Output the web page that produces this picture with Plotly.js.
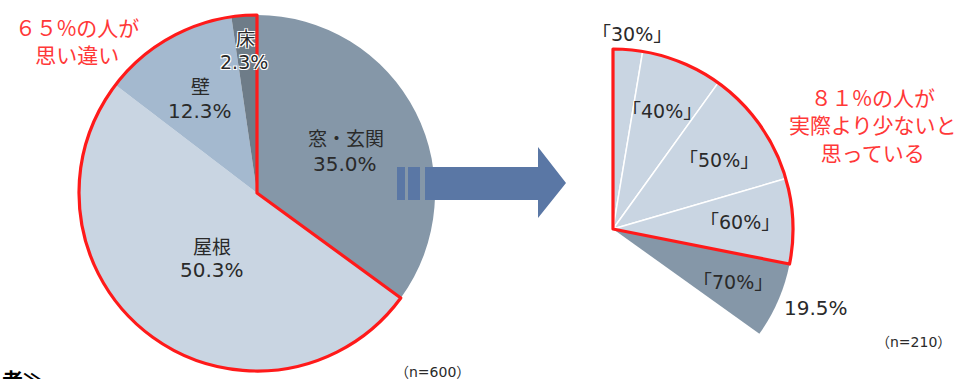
<!DOCTYPE html>
<html><head><meta charset="utf-8">
<script src="https://cdn.plot.ly/plotly-3.0.1.min.js"></script>
<style>html,body{margin:0;padding:0;overflow:hidden;background:#fff;width:968px;height:379px}#c{width:968px;height:440px}</style>
</head><body><div id="c"></div>
<script>
// ---- data ----
const pieLabels = ['窓・玄関', '屋根', '壁', '床'];
const pieValues = [35.0, 50.3, 12.3, 2.3];
const pieN = '（n=600）';
const pieNote = ['６５%の人が', '思い違い'];

const fanLabels = ['「30%」', '「40%」', '「50%」', '「60%」', '「70%」'];
const fanValues = [7.6, 21.0, 30.4, 22.0, 19.5];
const fanShown = '19.5%';
const fanN = '（n=210）';
const fanNote = ['８１%の人が', '実際より少ないと', '思っている'];

// ---- layout helpers ----
const W = 968, H = 440;
const px = x => x / W, py = y => (H - y) / H;
const RED = '#ff1a1a', TXT = '#2a2a2a', NOTE = '#ff3838';
const FONT = 'DejaVu Sans, "Noto Sans CJK JP", sans-serif';
const CJK = '"Noto Sans CJK JP", sans-serif';

const pieColors = ['#8597a8', '#c9d5e2', '#a4b9cf', '#6e7c88'];
const pieDomain = {x: [px(79), px(435)], y: [py(371), py(15)]};

const fanSpanDeg = 125.6;
const fanTotal = fanValues.reduce((a, b) => a + b, 0);
const fanHidden = fanTotal * (360 / fanSpanDeg - 1);
const fanDomain = {x: [px(433), px(793)], y: [py(409), py(49)]};
const fanColors = ['#c9d5e2', '#c9d5e2', '#c9d5e2', '#c9d5e2', '#8597a8', 'rgba(0,0,0,0)'];

const lightSum = fanValues.slice(0, 4).reduce((a, b) => a + b, 0);
const wrongSum = pieValues.slice(1).reduce((a, b) => a + b, 0);

const common = {type: 'pie', sort: false, direction: 'clockwise', rotation: 0,
  textinfo: 'none', hoverinfo: 'skip', showlegend: false};

const traces = [
  Object.assign({}, common, {values: pieValues, labels: pieLabels, domain: pieDomain,
    marker: {colors: pieColors, line: {width: 0}}}),
  Object.assign({}, common, {values: [pieValues[0], wrongSum], labels: ['a', 'b'], domain: pieDomain,
    marker: {colors: ['rgba(0,0,0,0)', 'rgba(0,0,0,0)'], line: {color: [RED, RED], width: [0, 3.2]}}}),
  Object.assign({}, common, {values: fanValues.concat([fanHidden]), labels: fanLabels.concat(['h']), domain: fanDomain,
    marker: {colors: fanColors, line: {color: '#ffffff', width: [1.5, 1.5, 1.5, 1.5, 0, 0]}}}),
  Object.assign({}, common, {values: [lightSum, fanValues[4], fanHidden], labels: ['a', 'b', 'c'], domain: fanDomain,
    marker: {colors: ['rgba(0,0,0,0)', 'rgba(0,0,0,0)', 'rgba(0,0,0,0)'], line: {color: [RED, RED, RED], width: [3.2, 0, 0]}}})
];

function ann(text, x, y, opt) {
  return Object.assign({text: text, xref: 'paper', yref: 'paper', x: px(x), y: py(y),
    xanchor: 'center', yanchor: 'middle', showarrow: false,
    font: {family: FONT, size: 20, color: TXT}}, opt || {});
}
const halo = '1px 1px 0 #fff, -1px -1px 0 #fff, 1px -1px 0 #fff, -1px 1px 0 #fff';

const annotations = [
  ann(pieLabels[3], 245, 37, {font: {family: CJK, size: 19, color: TXT, shadow: halo}}),
  ann(pieValues[3].toFixed(1) + '%', 244, 62, {font: {family: FONT, size: 19, color: TXT, shadow: halo}}),
  ann(pieLabels[2], 200, 86, {font: {family: CJK, size: 19, color: TXT}}),
  ann(pieValues[2].toFixed(1) + '%', 200, 111),
  ann(pieLabels[0], 346, 138, {font: {family: CJK, size: 19, color: TXT}}),
  ann(pieValues[0].toFixed(1) + '%', 345, 164),
  ann(pieLabels[1], 212, 245, {font: {family: CJK, size: 19, color: TXT}}),
  ann(pieValues[1].toFixed(1) + '%', 212, 270),
  ann(pieNote.join('<br>'), 77, 41, {font: {family: CJK, size: 21, color: NOTE}}),
  ann(pieN, 432, 372, {font: {family: FONT, size: 14, color: TXT}}),
  ann(fanLabels[0], 632, 34, {font: {family: FONT, size: 19, color: TXT}}),
  ann(fanLabels[1], 662, 111, {font: {family: FONT, size: 19, color: TXT}}),
  ann(fanLabels[2], 719, 160, {font: {family: FONT, size: 19, color: TXT}}),
  ann(fanLabels[3], 740, 222, {font: {family: FONT, size: 19, color: TXT}}),
  ann(fanLabels[4], 733, 282, {font: {family: FONT, size: 19, color: TXT}}),
  ann(fanShown, 816, 308, {font: {family: FONT, size: 20, color: TXT}}),
  ann(fanN, 913, 342, {font: {family: FONT, size: 14, color: TXT}}),
  ann(fanNote.join('<br>'), 873, 124, {font: {family: CJK, size: 21, color: NOTE}}),
  ann('<b>者≫</b>', 46, 362, {xanchor: 'right', yanchor: 'top', font: {family: CJK, size: 21, color: '#000'}})
];

const ARROW = '#5a77a5';
const shapes = [
  {type: 'rect', xref: 'paper', yref: 'paper', x0: px(397), x1: px(405), y0: py(200), y1: py(167), fillcolor: ARROW, line: {width: 0}},
  {type: 'rect', xref: 'paper', yref: 'paper', x0: px(408), x1: px(420), y0: py(200), y1: py(167), fillcolor: ARROW, line: {width: 0}},
  {type: 'path', xref: 'paper', yref: 'paper',
   path: `M ${px(425)} ${py(167)} L ${px(538)} ${py(167)} L ${px(538)} ${py(147)} L ${px(566)} ${py(183)} L ${px(538)} ${py(218)} L ${px(538)} ${py(200)} L ${px(425)} ${py(200)} Z`,
   fillcolor: ARROW, line: {width: 0}}
];

Plotly.newPlot('c', traces, {
  width: W, height: H, margin: {l: 0, r: 0, t: 0, b: 0},
  paper_bgcolor: '#fff', plot_bgcolor: '#fff',
  annotations: annotations, shapes: shapes
}, {staticPlot: true});
</script></body></html>
